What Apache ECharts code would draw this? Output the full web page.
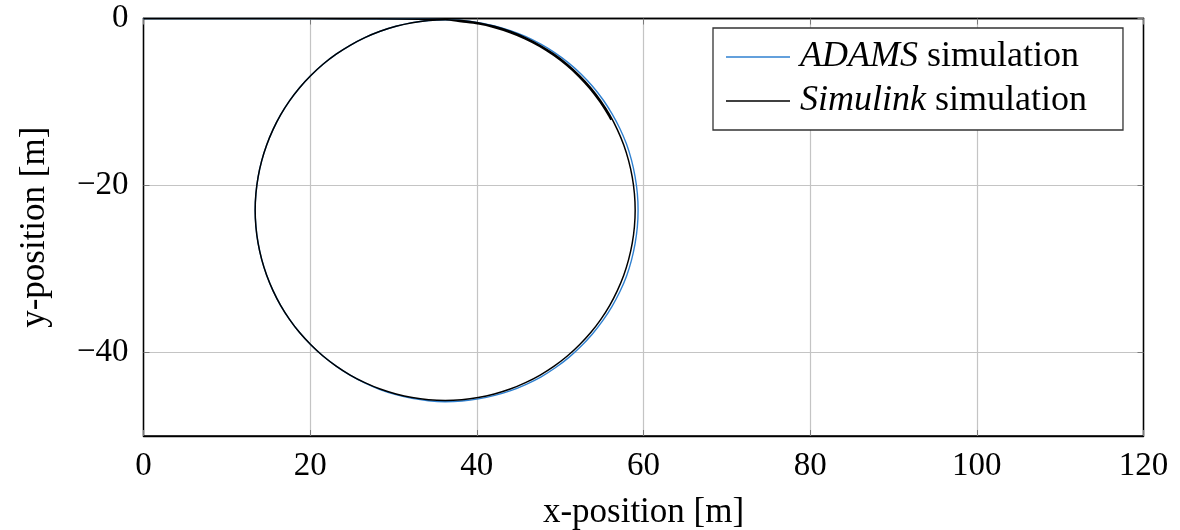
<!DOCTYPE html>
<html>
<head>
<meta charset="utf-8">
<script src="https://cdn.jsdelivr.net/npm/echarts@6/dist/echarts.min.js"></script>
<style>
  html, body { margin: 0; padding: 0; background: #fff; }
  #chart { width: 1180px; height: 530px; }
</style>
</head>
<body>
<div id="chart"></div>
<script>
// Vehicle trajectory: straight run along y = 0, then a right-hand circle (~1.15 laps)

// Simulink model trajectory [m]
var simulinkX = [0, 10, 20, 28, 33,
  36.20, 38.19, 40.16, 42.10, 44.00, 45.84, 47.60, 49.28, 50.86, 52.32, 53.67, 54.88, 55.95, 56.86, 57.63, 58.22, 58.65, 58.91,
  59.00, 58.91, 58.65, 58.22, 57.63, 56.86, 55.95, 54.88, 53.67, 52.32, 50.86, 49.28, 47.60, 45.84, 44.00, 42.10, 40.16, 38.19,
  36.20, 34.21, 32.24, 30.30, 28.40, 26.56, 24.80, 23.12, 21.54, 20.08, 18.73, 17.52, 16.45, 15.54, 14.78, 14.18, 13.75, 13.49,
  13.40, 13.49, 13.75, 14.18, 14.78, 15.54, 16.45, 17.52, 18.73, 20.08, 21.54, 23.12, 24.80, 26.56, 28.40, 30.30, 32.24, 34.21,
  36.20, 38.17, 40.13, 42.06, 43.95, 45.77, 47.53, 49.19, 50.76, 52.22, 53.55, 54.75, 55.82, 56.10];
var simulinkY = [0, 0, -0.01, -0.03, -0.08,
  -0.15, -0.24, -0.50, -0.93, -1.53, -2.29, -3.21, -4.27, -5.48, -6.83, -8.29, -9.87, -11.55, -13.31, -15.15, -17.05, -18.99, -20.96,
  -22.95, -24.94, -26.91, -28.85, -30.75, -32.59, -34.35, -36.03, -37.61, -39.07, -40.42, -41.63, -42.70, -43.61, -44.38, -44.97, -45.40, -45.66,
  -45.75, -45.66, -45.40, -44.97, -44.38, -43.61, -42.70, -41.63, -40.42, -39.07, -37.61, -36.03, -34.35, -32.59, -30.75, -28.85, -26.91, -24.94,
  -22.95, -20.96, -18.99, -17.05, -15.15, -13.31, -11.55, -9.87, -8.29, -6.83, -5.48, -4.27, -3.21, -2.29, -1.53, -0.93, -0.50, -0.24,
  -0.15, -0.39, -0.64, -1.07, -1.67, -2.42, -3.33, -4.40, -5.60, -6.93, -8.39, -9.96, -11.63, -12.14];

// ADAMS multibody trajectory [m]
var adamsX = [0, 10, 20, 28, 33,
  36.20, 38.19, 40.16, 42.11, 44.03, 45.89, 47.68, 49.38, 51.00, 52.50, 53.88, 55.12, 56.21, 57.16, 57.96, 58.56, 58.99, 59.26,
  59.35, 59.26, 58.99, 58.56, 57.96, 57.16, 56.21, 55.11, 53.87, 52.50, 51.02, 49.42, 47.72, 45.93, 44.07, 42.15, 40.19, 38.20,
  36.20, 34.20, 32.22, 30.28, 28.38, 26.54, 24.79, 23.12, 21.54, 20.08, 18.73, 17.52, 16.45, 15.54, 14.78, 14.18, 13.75, 13.49,
  13.40, 13.49, 13.75, 14.18, 14.78, 15.54, 16.45, 17.52, 18.73, 20.08, 21.54, 23.12, 24.80, 26.56, 28.40, 30.30, 32.24, 34.21,
  36.20, 38.19, 40.16, 42.11, 44.03, 45.89, 47.68, 49.38, 51.00, 52.50, 53.88, 55.12, 55.95];
var adamsY = [0, 0, -0.01, -0.03, -0.08,
  -0.15, -0.24, -0.50, -0.88, -1.46, -2.18, -3.08, -4.12, -5.31, -6.65, -8.12, -9.70, -11.40, -13.17, -15.03, -16.96, -18.93, -20.93,
  -22.95, -24.97, -26.97, -28.94, -30.87, -32.73, -34.50, -36.19, -37.78, -39.25, -40.61, -41.83, -42.91, -43.81, -44.57, -45.14, -45.56, -45.81,
  -45.89, -45.78, -45.50, -45.05, -44.44, -43.65, -42.72, -41.63, -40.42, -39.07, -37.61, -36.03, -34.35, -32.59, -30.75, -28.85, -26.91, -24.94,
  -22.95, -20.96, -18.99, -17.05, -15.15, -13.31, -11.55, -9.87, -8.29, -6.83, -5.48, -4.27, -3.21, -2.29, -1.53, -0.93, -0.50, -0.24,
  -0.15, -0.24, -0.50, -0.88, -1.46, -2.18, -3.08, -4.12, -5.31, -6.65, -8.12, -9.70, -10.95];

var xTicks = [0, 20, 40, 60, 80, 100, 120];
var yTicks = [-40, -20, 0];
var seriesNames = ['ADAMS simulation', 'Simulink simulation'];

function pairs(xs, ys) {
  return xs.map(function (x, i) { return [x, ys[i]]; });
}

var FONT = "'Liberation Serif', 'DejaVu Serif', serif";
var gridColor = '#c4c4c4';
var tickColor = '#7a7a7a';
var adamsColor = '#2f80d0';

function fmt(v) { return String(v).replace('-', '\u2212'); }

var chart = echarts.init(document.getElementById('chart'), null, { renderer: 'canvas' });
chart.setOption({
  animation: false,
  backgroundColor: '#fff',
  grid: { left: 143.5, right: 36.5, top: 18.5, bottom: 94, outerBoundsMode: 'none',
    show: true, borderColor: '#000', borderWidth: 1.3, backgroundColor: 'transparent' },
  legend: {
    orient: 'vertical',
    left: 713,
    top: 28,
    padding: [11, 36, 11, 13],
    itemGap: 8,
    itemWidth: 64,
    itemHeight: 1.6,
    icon: 'rect',
    backgroundColor: '#fff',
    borderColor: '#333',
    borderWidth: 1.3,
    data: seriesNames,
    formatter: function (name) {
      var parts = name.split(' ');
      return '{i|' + parts[0] + '} ' + parts[1];
    },
    textStyle: {
      fontFamily: FONT, fontSize: 36, color: '#000', lineHeight: 36, padding: [0, 0, 0, 5],
      rich: { i: { fontFamily: FONT, fontStyle: 'italic', fontSize: 36, color: '#000', lineHeight: 36 } }
    }
  },
  xAxis: [{
    type: 'value', min: 0, max: 120, interval: 20,
    name: 'x-position [m]', nameLocation: 'middle', nameGap: 59,
    nameTextStyle: { fontFamily: FONT, fontSize: 35, color: '#000' },
    axisLine: { onZero: false, lineStyle: { color: '#000', width: 1.3 } },
    axisTick: { inside: true, length: 6, lineStyle: { color: tickColor } },
    axisLabel: { fontFamily: FONT, fontSize: 33, color: '#000', margin: 14,
      customValues: xTicks, formatter: fmt },
    splitLine: { lineStyle: { color: gridColor, width: 1.2 } }
  }, {
    type: 'value', min: 0, max: 120, interval: 20, position: 'top',
    axisLine: { onZero: false, lineStyle: { color: '#000', width: 1.3 } },
    axisTick: { inside: true, length: 6, lineStyle: { color: tickColor } },
    axisLabel: { show: false },
    splitLine: { show: false }
  }],
  yAxis: [{
    type: 'value', min: -50, max: 0,
    name: 'y-position [m]', nameLocation: 'middle', nameGap: 91, nameRotate: 90,
    nameTextStyle: { fontFamily: FONT, fontSize: 35, color: '#000' },
    axisLine: { onZero: false, lineStyle: { color: '#000', width: 1.3 } },
    axisTick: { inside: true, length: 6, customValues: yTicks, lineStyle: { color: tickColor } },
    axisLabel: { fontFamily: FONT, fontSize: 33, color: '#000', margin: 15,
      customValues: yTicks, formatter: fmt },
    splitLine: { lineStyle: { color: gridColor, width: 1.2 } }
  }, {
    type: 'value', min: -50, max: 0, position: 'right',
    axisLine: { onZero: false, lineStyle: { color: '#000', width: 1.3 } },
    axisTick: { inside: true, length: 6, customValues: yTicks, lineStyle: { color: tickColor } },
    axisLabel: { show: false },
    splitLine: { show: false }
  }],
  series: [{
    name: seriesNames[0], type: 'line', xAxisIndex: 0, yAxisIndex: 0,
    data: pairs(adamsX, adamsY), showSymbol: false, symbol: 'none', smooth: 0.3,
    color: adamsColor, lineStyle: { color: adamsColor, width: 1.4 }, z: 2
  }, {
    name: seriesNames[1], type: 'line', xAxisIndex: 0, yAxisIndex: 0,
    data: pairs(simulinkX, simulinkY), showSymbol: false, symbol: 'none', smooth: 0.3,
    color: '#000', lineStyle: { color: '#000', width: 1.5 }, z: 3
  }]
});
</script>
</body>
</html>
